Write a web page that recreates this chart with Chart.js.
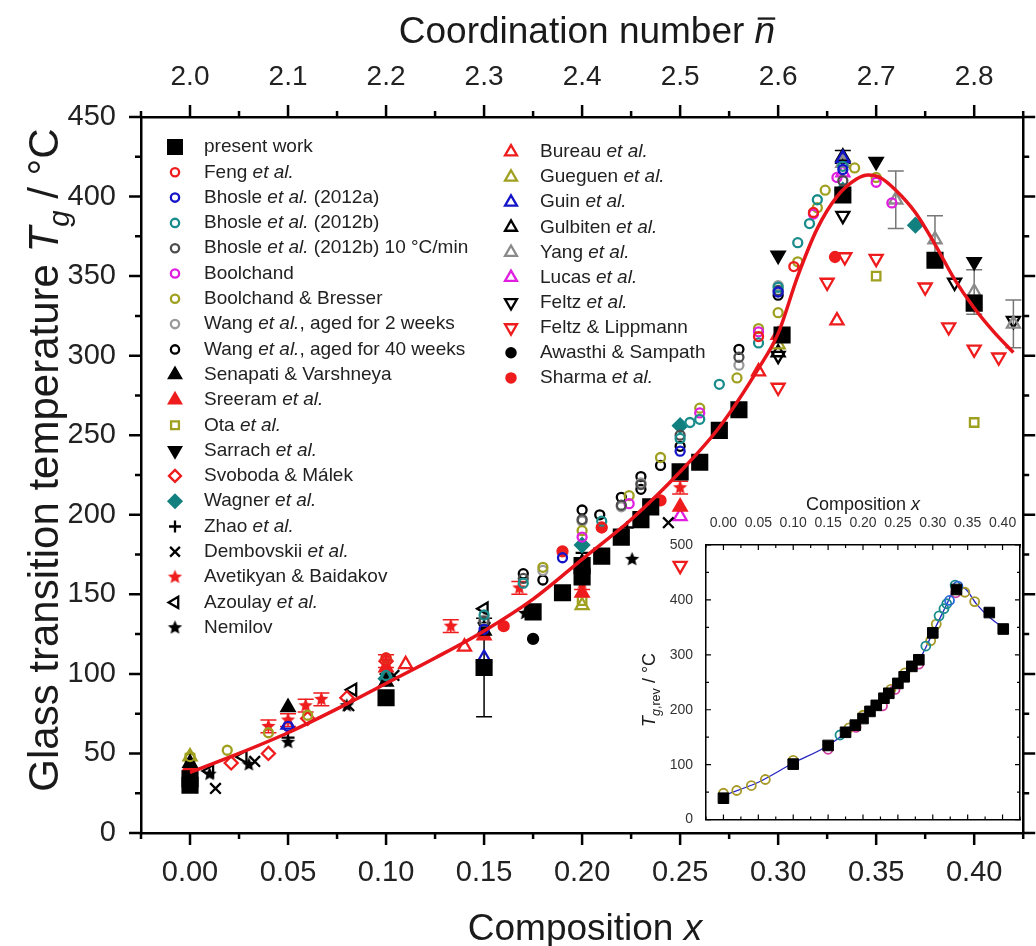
<!DOCTYPE html>
<html>
<head>
<meta charset="utf-8">
<script src="https://cdn.jsdelivr.net/npm/chart.js@4.4.1/dist/chart.umd.min.js"></script>
<style>
  body { margin: 0; background: #fff; }
  #wrap { position: relative; width: 1036px; height: 946px; }
  #main { position: absolute; left: 0; top: 0; }
  #inset { position: absolute; left: 630px; top: 490px; }
</style>
</head>
<body>
<div id="wrap">
  <canvas id="main" width="1036" height="946"></canvas>
  <canvas id="inset" width="402" height="343"></canvas>
</div>
<script>
// ---- data: composition x vs glass transition temperature Tg (°C) ----
var xTicks = [0, 0.05, 0.1, 0.15, 0.2, 0.25, 0.3, 0.35, 0.4];
var yTicks = [0, 50, 100, 150, 200, 250, 300, 350, 400, 450];
var insetYTicks = [0, 100, 200, 300, 400, 500];

var presentWork = [[0,30],[0,34],[0.1,85],[0.15,104],[0.175,139],[0.19,151],[0.2,161],[0.2,168],[0.21,174],[0.22,186],
  [0.23,197],[0.235,205],[0.25,227],[0.26,233],[0.27,253],[0.28,266],[0.302,313],[0.333,401],[0.38,360],[0.4,333]];
var presentWorkErr = [0,0,0,31,0,0,0,0,0,0,0,0,0,0,0,0,0,0,0,0];
var feng = [[0.1,110],[0.21,192],[0.29,312],[0.308,356],[0.318,390]];
var bhosleA = [[0.05,67],[0.15,128],[0.19,173],[0.25,240],[0.3,340],[0.333,417]];
var bhosleB = [[0.1,99],[0.15,137],[0.17,157],[0.21,196],[0.25,248],[0.255,258],[0.26,260],[0.27,282],[0.29,308],
  [0.3,343],[0.31,371],[0.316,383],[0.32,398],[0.333,419]];
var bhosleB10 = [[0.15,133],[0.17,160],[0.2,197],[0.22,206],[0.23,219],[0.25,250],[0.28,299],[0.3,341],[0.333,410]];
var boolchand = [[0.2,186],[0.224,207],[0.26,264],[0.29,315],[0.318,389],[0.33,412],[0.35,409],[0.358,396]];
var boolchandBresser = [[0,48],[0.019,52],[0.04,63],[0.06,74],[0.1,110],[0.18,167],[0.2,190],[0.224,212],[0.24,236],
  [0.26,267],[0.279,286],[0.29,317],[0.3,327],[0.31,359],[0.32,393],[0.324,404],[0.339,418],[0.35,412]];
var wang2 = [[0.15,134],[0.18,165],[0.2,196],[0.22,205],[0.23,220],[0.28,294],[0.3,344]];
var wang40 = [[0.17,163],[0.18,159],[0.2,203],[0.209,200],[0.22,211],[0.23,224],[0.23,216],[0.24,231],[0.25,243],
  [0.28,304],[0.3,338]];
var senapati = [[0,44],[0.05,79],[0.1,95],[0.15,127],[0.2,170]];
var sreeram = [[0,42],[0.1,104],[0.15,124],[0.2,151],[0.25,205],[0.3,313]];
var ota = [[0,47],[0.2,146],[0.35,350],[0.4,258]];
var sarrach = [[0.3,363],[0.35,422],[0.4,359]];
var svoboda = [[0.021,44],[0.04,50],[0.06,72],[0.08,85],[0.1,108]];
var wagner = [[0.1,97],[0.2,181],[0.25,256],[0.333,404],[0.37,382]];
var zhao = [[0.05,60],[0.1,100],[0.15,132],[0.2,176],[0.223,192]];
var dembovskii = [[0.013,28],[0.033,45],[0.081,80],[0.104,99],[0.15,128],[0.244,195]];
var avetikyan = [[0.04,67],[0.05,71],[0.059,80],[0.067,84],[0.1,108],[0.133,130],[0.168,154],[0.2,157],[0.25,217]];
var avetikyanErr = [4,4,4,4,4,4,4,4,4];
var azoulay = [[0.01,39],[0.027,48],[0.083,90],[0.15,141]];
var nemilov = [[0.01,37],[0.03,43],[0.05,57],[0.08,80],[0.171,138],[0.2255,172]];
var bureau = [[0.11,106],[0.14,117],[0.29,290],[0.33,322]];
var gueguen = [[0,48],[0.2,143],[0.3,307]];
var guin = [[0.05,68],[0.15,110],[0.333,424]];
var gulbiten = [[0.3,302],[0.333,425]];
var gulbitenErr = [0,4];
var yang = [[0.333,421],[0.36,398],[0.38,373],[0.4,340],[0.42,320]];
var yangErr = [0,18,15,14,15];
var lucas = [[0.25,199],[0.333,415]];
var feltz = [[0.3,300],[0.333,388],[0.39,346],[0.42,322]];
var feltzLippmann = [[0.25,168],[0.3,280],[0.325,346],[0.334,362],[0.35,361],[0.375,343],[0.387,318],[0.4,304],[0.4125,299]];
var awasthi = [[0.15,125],[0.175,122],[0.2,165]];
var sharma = [[0,39],[0.16,130],[0.19,177],[0.21,192],[0.24,209],[0.329,362]];

// fitted curve through all data
var fitX = [0, 0.025, 0.05, 0.075, 0.1, 0.125, 0.15, 0.175, 0.2, 0.225, 0.25, 0.27, 0.29, 0.3, 0.31, 0.32, 0.33, 0.34,
  0.346, 0.352, 0.36, 0.37, 0.38, 0.39, 0.4, 0.41, 0.42];
var fitY = [38, 50, 63, 78, 94, 110, 127, 147, 172, 197, 227, 255, 292, 314, 350, 380, 400, 411,
  413.5, 412, 404, 390, 370, 348, 330, 315, 302];

// inset: reversing Tg
var insetPresent = [[0,39],[0.1,101],[0.15,135],[0.175,159],[0.189,172],[0.2,184],[0.21,197],[0.219,208],[0.23,221],
  [0.237,230],[0.25,248],[0.259,260],[0.27,279],[0.28,291],[0.3,340],[0.334,419],[0.381,377],[0.401,347]];
var insetOlive = [[0,48],[0.019,53],[0.04,62],[0.06,73],[0.1,108],[0.18,167],[0.2,190],[0.24,237],[0.26,267],
  [0.297,326],[0.305,356],[0.346,414],[0.36,397]];
var insetTeal = [[0.167,154],[0.29,316],[0.309,371],[0.316,384],[0.32,393],[0.332,427]];
var insetMagenta = [[0.15,128],[0.19,168],[0.228,207],[0.246,237],[0.28,283],[0.333,413]];
var insetBlue = [[0.324,399],[0.336,425]];
var insetFitX = [0, 0.05, 0.1, 0.15, 0.2, 0.25, 0.28, 0.3, 0.32, 0.33, 0.338, 0.347, 0.363, 0.38, 0.4];
var insetFitY = [44, 68, 103, 135, 185, 251, 290, 340, 392, 418, 424, 420, 392, 370, 350];

// ---- styling ----
var FONT = '"Liberation Sans", Arial, sans-serif';
var OPEN = 'rgba(0,0,0,0)';
var RED = '#ee1c1c', BLUE = '#1414c8', TEAL = '#1b8c8c', DGREY = '#4d4d4d', MAG = '#e01ee0',
    OLIVE = '#a0a020', LGREY = '#9a9a9a', WAG = '#138080', BLACK = '#000';

function makeStar(color, r) {
  var c = document.createElement('canvas');
  c.width = c.height = Math.ceil(r * 2 + 2);
  var g = c.getContext('2d'), m = c.width / 2;
  g.beginPath();
  for (var i = 0; i < 10; i++) {
    var rr = i % 2 ? r * 0.45 : r, a = -Math.PI / 2 + i * Math.PI / 5;
    g.lineTo(m + rr * Math.cos(a), m + rr * Math.sin(a));
  }
  g.closePath();
  g.fillStyle = color;
  g.fill();
  return c;
}
var blackStar = makeStar(BLACK, 7.5), redStar = makeStar(RED, 7.5);

function et(name, tail) { return [[name + ' ', 0], ['et al.', 1]].concat(tail ? [[tail, 0]] : []); }

// legend column 0 and 1, in drawing order
var seriesDefs = [
  {name: [['present work', 0]], data: presentWork, errs: presentWorkErr, shape: 'rect', r: 10.5, stroke: BLACK, fill: BLACK, col: 0},
  {name: et('Feng'), data: feng, shape: 'circle', r: 4.5, stroke: RED, fill: OPEN, col: 0},
  {name: et('Bhosle', ' (2012a)'), data: bhosleA, shape: 'circle', r: 4.5, stroke: BLUE, fill: OPEN, col: 0},
  {name: et('Bhosle', ' (2012b)'), data: bhosleB, shape: 'circle', r: 4.5, stroke: TEAL, fill: OPEN, col: 0},
  {name: et('Bhosle', ' (2012b) 10 °C/min'), data: bhosleB10, shape: 'circle', r: 4.5, stroke: DGREY, fill: OPEN, col: 0},
  {name: [['Boolchand', 0]], data: boolchand, shape: 'circle', r: 4.5, stroke: MAG, fill: OPEN, col: 0},
  {name: [['Boolchand & Bresser', 0]], data: boolchandBresser, shape: 'circle', r: 4.5, stroke: OLIVE, fill: OPEN, col: 0},
  {name: [['Wang ', 0], ['et al.', 1], [', aged for 2 weeks', 0]], data: wang2, shape: 'circle', r: 4.5, stroke: LGREY, fill: OPEN, col: 0},
  {name: [['Wang ', 0], ['et al.', 1], [', aged for 40 weeks', 0]], data: wang40, shape: 'circle', r: 4.5, stroke: BLACK, fill: OPEN, col: 0},
  {name: [['Senapati & Varshneya', 0]], data: senapati, shape: 'triangle', r: 7.5, stroke: BLACK, fill: BLACK, col: 0},
  {name: et('Sreeram'), data: sreeram, shape: 'triangle', r: 7.5, stroke: RED, fill: RED, col: 0},
  {name: et('Ota'), data: ota, shape: 'rect', r: 6, stroke: OLIVE, fill: OPEN, col: 0},
  {name: et('Sarrach'), data: sarrach, shape: 'triangle', rot: 180, r: 7.5, stroke: BLACK, fill: BLACK, col: 0},
  {name: [['Svoboda & Málek', 0]], data: svoboda, shape: 'rectRot', r: 6.5, stroke: RED, fill: OPEN, col: 0},
  {name: et('Wagner'), data: wagner, shape: 'rectRot', r: 7, stroke: WAG, fill: WAG, col: 0},
  {name: et('Zhao'), data: zhao, shape: 'cross', r: 6.5, stroke: BLACK, fill: BLACK, col: 0},
  {name: et('Dembovskii'), data: dembovskii, shape: 'crossRot', r: 7.5, stroke: BLACK, fill: BLACK, col: 0},
  {name: [['Avetikyan & Baidakov', 0]], data: avetikyan, errs: avetikyanErr, shape: redStar, r: 6, stroke: RED, fill: RED, col: 0},
  {name: et('Azoulay'), data: azoulay, shape: 'triangle', rot: -90, r: 7, stroke: BLACK, fill: OPEN, col: 0},
  {name: [['Nemilov', 0]], data: nemilov, shape: blackStar, r: 6, stroke: BLACK, fill: BLACK, col: 0},
  {name: et('Bureau'), data: bureau, shape: 'triangle', r: 7.5, stroke: RED, fill: OPEN, col: 1},
  {name: et('Gueguen'), data: gueguen, shape: 'triangle', r: 7.5, stroke: OLIVE, fill: OPEN, col: 1},
  {name: et('Guin'), data: guin, shape: 'triangle', r: 7.5, stroke: BLUE, fill: OPEN, col: 1},
  {name: et('Gulbiten'), data: gulbiten, errs: gulbitenErr, shape: 'triangle', r: 7.5, stroke: BLACK, fill: OPEN, col: 1},
  {name: et('Yang'), data: yang, errs: yangErr, shape: 'triangle', r: 7.5, stroke: '#8a8a8a', fill: OPEN, col: 1},
  {name: et('Lucas'), data: lucas, shape: 'triangle', r: 7.5, stroke: MAG, fill: OPEN, col: 1},
  {name: et('Feltz'), data: feltz, shape: 'triangle', rot: 180, r: 7.5, stroke: BLACK, fill: OPEN, col: 1},
  {name: [['Feltz & Lippmann', 0]], data: feltzLippmann, shape: 'triangle', rot: 180, r: 7.5, stroke: RED, fill: OPEN, col: 1},
  {name: [['Awasthi & Sampath', 0]], data: awasthi, shape: 'circle', r: 5, stroke: BLACK, fill: BLACK, col: 1},
  {name: et('Sharma'), data: sharma, shape: 'circle', r: 5, stroke: RED, fill: RED, col: 1}
];

function toPts(arr) { return arr.map(function (p) { return {x: p[0], y: p[1]}; }); }
function zipPts(xs, ys) { return xs.map(function (x, i) { return {x: x, y: ys[i]}; }); }

var mainDatasets = [{
  data: zipPts(fitX, fitY), showLine: true, pointRadius: 0, borderColor: '#e8141c', borderWidth: 3.5,
  cubicInterpolationMode: 'monotone', fill: false
}];
seriesDefs.forEach(function (s) {
  mainDatasets.push({
    data: toPts(s.data), showLine: false, pointStyle: s.shape, pointRadius: s.r, pointRotation: s.rot || 0,
    pointBorderColor: s.stroke, pointBackgroundColor: s.fill, pointBorderWidth: 2.3,
    errs: s.errs, errColor: s.stroke === '#8a8a8a' ? '#777' : s.stroke
  });
});

// ---- helpers for text with italic / subscript / overline parts ----
function richText(ctx, parts, size, x, y, align) {
  function fnt(p) { return (p[1] ? 'italic ' : '') + (p[2] ? size * 0.7 : size) + 'px ' + FONT; }
  var w = 0;
  parts.forEach(function (p) { ctx.font = fnt(p); w += ctx.measureText(p[0]).width; });
  var cx = align === 'center' ? x - w / 2 : x;
  parts.forEach(function (p) {
    ctx.font = fnt(p);
    var pw = ctx.measureText(p[0]).width;
    ctx.fillText(p[0], cx, y + (p[2] ? size * 0.25 : 0));
    if (p[3]) {
      ctx.save();
      ctx.lineWidth = Math.max(1, size / 16);
      ctx.strokeStyle = ctx.fillStyle;
      ctx.beginPath();
      ctx.moveTo(cx + pw * 0.15, y - size * 0.66);
      ctx.lineTo(cx + pw * 1.0, y - size * 0.66);
      ctx.stroke();
      ctx.restore();
    }
    cx += pw;
  });
}

function tickLoop(from, to, step, fn) {
  for (var k = Math.round(from / step); k <= Math.round(to / step); k++) fn(k * step, k);
}

// ticks on all four sides, outward (main) or inward (inset)
function drawFrameTicks(chart, o) {
  var a = chart.chartArea, ctx = chart.ctx, xs = chart.scales.x, ys = chart.scales.y;
  var d = o.inward ? -1 : 1;
  ctx.save();
  ctx.strokeStyle = '#000';
  ctx.lineWidth = o.width;
  ctx.beginPath();
  tickLoop(o.xMin, o.xMax, o.xStep / 2, function (v, k) {
    var len = k % 2 === 0 ? o.major : o.minor, px = xs.getPixelForValue(v);
    ctx.moveTo(px, a.bottom); ctx.lineTo(px, a.bottom + d * len);
    ctx.moveTo(px, a.top); ctx.lineTo(px, a.top - d * len);
  });
  tickLoop(o.yMin, o.yMax, o.yStep / 2, function (v, k) {
    var len = k % 2 === 0 ? o.major : o.minor, py = ys.getPixelForValue(v);
    ctx.moveTo(a.left, py); ctx.lineTo(a.left - d * len, py);
    ctx.moveTo(a.right, py); ctx.lineTo(a.right + d * len, py);
  });
  ctx.stroke();
  ctx.restore();
}

var errorBars = {
  id: 'errorBars',
  beforeDatasetsDraw: function (chart) {
    var ctx = chart.ctx, ys = chart.scales.y;
    chart.data.datasets.forEach(function (ds, i) {
      if (!ds.errs) return;
      var meta = chart.getDatasetMeta(i);
      ctx.save();
      ctx.strokeStyle = ds.errColor;
      ctx.lineWidth = 1.5;
      ctx.beginPath();
      meta.data.forEach(function (pt, j) {
        var e = ds.errs[j];
        if (!e) return;
        var v = ds.data[j].y, y1 = ys.getPixelForValue(v + e), y2 = ys.getPixelForValue(v - e);
        ctx.moveTo(pt.x, y1); ctx.lineTo(pt.x, y2);
        ctx.moveTo(pt.x - 8, y1); ctx.lineTo(pt.x + 8, y1);
        ctx.moveTo(pt.x - 8, y2); ctx.lineTo(pt.x + 8, y2);
      });
      ctx.stroke();
      ctx.restore();
    });
  }
};

var mainDecor = {
  id: 'mainDecor',
  afterDraw: function (chart) {
    var ctx = chart.ctx;
    drawFrameTicks(chart, {xMin: -0.025, xMax: 0.425, xStep: 0.05, yMin: 0, yMax: 450, yStep: 50,
      major: 12, minor: 6, width: 2.5});

    // axis titles
    ctx.save();
    ctx.fillStyle = '#1a1a1a';
    ctx.textAlign = 'left';
    ctx.textBaseline = 'alphabetic';
    richText(ctx, [['Composition ', 0], ['x', 1]], 37, 585, 940, 'center');
    richText(ctx, [['Coordination number ', 0], ['n', 1, 0, 1]], 37, 587, 43, 'center');
    ctx.translate(58, 460);
    ctx.rotate(-Math.PI / 2);
    richText(ctx, [['Glass transition temperature ', 0], ['T', 1], ['g', 1, 1], [' / °C', 0]], 42, 0, 0, 'center');
    ctx.restore();

    // legend, two columns
    var drawPt = Chart.helpers && Chart.helpers.drawPoint;
    var rows = [0, 0];
    ctx.save();
    ctx.textBaseline = 'middle';
    seriesDefs.forEach(function (s) {
      var c = s.col, y = c === 0 ? 147 + rows[0] * 25.3 : 152 + rows[1] * 25.1;
      rows[c]++;
      var mx = c === 0 ? 175 : 511, tx = c === 0 ? 204 : 540;
      if (drawPt) {
        ctx.save();
        ctx.fillStyle = s.fill;
        ctx.strokeStyle = s.stroke;
        ctx.lineWidth = 2.3;
        drawPt(ctx, {pointStyle: s.shape, rotation: s.rot || 0, radius: s.r * 0.92, borderWidth: 2.3}, mx, y);
        ctx.restore();
      }
      ctx.fillStyle = '#222';
      richText(ctx, s.name, 19, tx, y, 'left');
    });
    ctx.restore();
  }
};

function fixedTicks(list) { return function (scale) { scale.ticks = list.map(function (v) { return {value: v}; }); }; }
var frameBorder = {display: true, color: '#000', width: 2.5};

new Chart(document.getElementById('main'), {
  type: 'scatter',
  data: {datasets: mainDatasets},
  options: {
    responsive: false, animation: false, events: [],
    layout: {padding: 0},
    plugins: {legend: {display: false}, tooltip: {enabled: false}},
    scales: {
      x: {type: 'linear', position: 'bottom', min: -0.025, max: 0.425, afterBuildTicks: fixedTicks(xTicks),
        afterFit: function (s) { s.height = 113; }, grid: {display: false}, border: frameBorder,
        ticks: {callback: function (v) { return v.toFixed(2); }, font: {size: 29, family: FONT}, color: '#222',
          padding: 15, maxRotation: 0, autoSkip: false}},
      xTop: {type: 'linear', position: 'top', min: -0.025, max: 0.425, afterBuildTicks: fixedTicks(xTicks),
        afterFit: function (s) { s.height = 117; }, grid: {display: false}, border: frameBorder,
        ticks: {callback: function (v) { return (2 + 2 * v).toFixed(1); }, font: {size: 28, family: FONT}, color: '#222',
          padding: 15, maxRotation: 0, autoSkip: false}},
      y: {type: 'linear', position: 'left', min: 0, max: 450, afterBuildTicks: fixedTicks(yTicks),
        afterFit: function (s) { s.width = 141; }, grid: {display: false}, border: frameBorder,
        ticks: {font: {size: 29, family: FONT}, color: '#222', padding: 17}},
      yRight: {type: 'linear', position: 'right', min: 0, max: 450,
        afterFit: function (s) { s.width = 6; }, grid: {display: false}, border: frameBorder,
        ticks: {display: false}}
    }
  },
  plugins: [errorBars, mainDecor]
});

// ---- inset chart ----
var insetDecor = {
  id: 'insetDecor',
  beforeDraw: function (chart) {
    var a = chart.chartArea, ctx = chart.ctx;
    ctx.save();
    ctx.fillStyle = '#fff';
    ctx.fillRect(a.left, a.top, a.right - a.left, a.bottom - a.top);
    ctx.restore();
  },
  afterDraw: function (chart) {
    var ctx = chart.ctx;
    drawFrameTicks(chart, {xMin: -0.025, xMax: 0.425, xStep: 0.05, yMin: 0, yMax: 500, yStep: 100,
      major: 5, minor: 3, width: 1.2, inward: true});
    ctx.save();
    ctx.fillStyle = '#1a1a1a';
    ctx.textBaseline = 'alphabetic';
    richText(ctx, [['Composition ', 0], ['x', 1]], 18, 233, 20, 'center');
    ctx.translate(25, 200);
    ctx.rotate(-Math.PI / 2);
    richText(ctx, [['T', 1], ['g', 1, 1], [',rev', 0, 1], [' / °C', 0]], 18, 0, 0, 'center');
    ctx.restore();
  }
};
var thinBorder = {display: true, color: '#000', width: 1.5};

new Chart(document.getElementById('inset'), {
  type: 'scatter',
  data: {datasets: [
    {data: toPts(insetPresent), pointStyle: 'rect', pointRadius: 7.5, pointBackgroundColor: '#000', pointBorderColor: '#000', pointBorderWidth: 1},
    {data: toPts(insetBlue), pointStyle: 'circle', pointRadius: 4.5, pointBackgroundColor: OPEN, pointBorderColor: '#2a6ad8', pointBorderWidth: 1.8},
    {data: toPts(insetTeal), pointStyle: 'circle', pointRadius: 4.5, pointBackgroundColor: OPEN, pointBorderColor: TEAL, pointBorderWidth: 1.8},
    {data: toPts(insetMagenta), pointStyle: 'circle', pointRadius: 4.5, pointBackgroundColor: OPEN, pointBorderColor: '#d040a0', pointBorderWidth: 1.8},
    {data: toPts(insetOlive), pointStyle: 'circle', pointRadius: 4.5, pointBackgroundColor: OPEN, pointBorderColor: '#a89a28', pointBorderWidth: 1.8},
    {data: zipPts(insetFitX, insetFitY), showLine: true, pointRadius: 0, borderColor: '#2626c0', borderWidth: 1.3,
      cubicInterpolationMode: 'monotone', fill: false}
  ]},
  options: {
    responsive: false, animation: false, events: [],
    layout: {padding: 0},
    plugins: {legend: {display: false}, tooltip: {enabled: false}},
    scales: {
      x: {type: 'linear', position: 'bottom', min: -0.025, max: 0.425, afterBuildTicks: fixedTicks(xTicks),
        afterFit: function (s) { s.height = 7; }, grid: {display: false}, border: thinBorder, ticks: {display: false}},
      xTop: {type: 'linear', position: 'top', min: -0.025, max: 0.425, afterBuildTicks: fixedTicks(xTicks),
        afterFit: function (s) { s.height = 55; }, grid: {display: false}, border: thinBorder,
        ticks: {callback: function (v) { return v.toFixed(2); }, font: {size: 14, family: FONT}, color: '#333',
          padding: 5, maxRotation: 0, autoSkip: false}},
      y: {type: 'linear', position: 'left', min: 0, max: 500, afterBuildTicks: fixedTicks(insetYTicks),
        afterFit: function (s) { s.width = 76; }, grid: {display: false}, border: thinBorder,
        ticks: {font: {size: 14, family: FONT}, color: '#333', padding: 5}},
      yRight: {type: 'linear', position: 'right', min: 0, max: 500,
        afterFit: function (s) { s.width = 12; }, grid: {display: false}, border: thinBorder, ticks: {display: false}}
    }
  },
  plugins: [insetDecor]
});
</script>
</body>
</html>
